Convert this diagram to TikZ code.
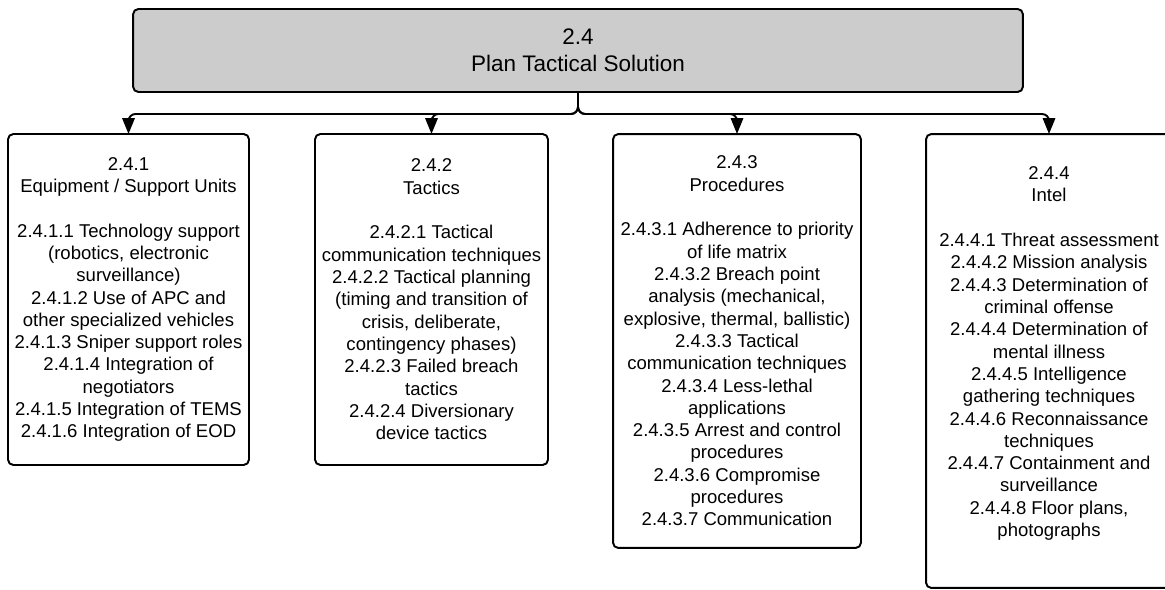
\documentclass[tikz,border=0pt]{standalone}
\usepackage{fontspec}
\setmainfont{Liberation Sans}
\usetikzlibrary{arrows.meta}

\begin{document}
\begin{tikzpicture}[x=0.02cm, y=-0.02cm,
  every node/.style={inner sep=0pt, outer sep=0pt},
  rootbox/.style={draw=black, line width=1.1pt, rounded corners=3pt,
    fill={rgb,255:red,204;green,204;blue,204},
    minimum width=17.8cm, minimum height=1.66cm, align=center,
    font=\fontsize{12.8}{15.4}\selectfont},
  childbox/.style={draw=black, line width=1.1pt, rounded corners=3pt,
    fill=white, align=center,
    font=\fontsize{10.55}{12.7}\selectfont},
  link/.style={draw=black, line width=1.1pt, rounded corners=4pt,
    -{Triangle[length=9pt, width=7pt]}}
]
\useasboundingbox (0,0) rectangle (1165,590);
\clip (0,0) rectangle (1165,590);

% root
\node[rootbox] (root) at (578,50.5) {2.4\\Plan Tactical Solution};

% children
\node[childbox, minimum width=4.82cm, minimum height=6.62cm] (b1) at (128.5,299.5)
  {2.4.1\\Equipment / Support Units\\[12.7pt]
   2.4.1.1 Technology support\\(robotics, electronic\\surveillance)\\
   2.4.1.2 Use of APC and\\other specialized vehicles\\
   2.4.1.3 Sniper support roles\\
   2.4.1.4 Integration of\\negotiators\\
   2.4.1.5 Integration of TEMS\\
   2.4.1.6 Integration of EOD};

\node[childbox, minimum width=4.66cm, minimum height=6.62cm] (b2) at (431.5,299.5)
  {2.4.2\\Tactics\\[12.7pt]
   2.4.2.1 Tactical\\communication techniques\\
   2.4.2.2 Tactical planning\\(timing and transition of\\crisis, deliberate,\\contingency phases)\\
   2.4.2.3 Failed breach\\tactics\\
   2.4.2.4 Diversionary\\device tactics};

\node[childbox, minimum width=4.96cm, minimum height=8.28cm] (b3) at (737,341)
  {2.4.3\\Procedures\\[12.7pt]
   2.4.3.1 Adherence to priority\\of life matrix\\
   2.4.3.2 Breach point\\analysis (mechanical,\\explosive, thermal, ballistic)\\
   2.4.3.3 Tactical\\communication techniques\\
   2.4.3.4 Less-lethal\\applications\\
   2.4.3.5 Arrest and control\\procedures\\
   2.4.3.6 Compromise\\procedures\\
   2.4.3.7 Communication};

% the trailing empty line lifts the text block a little inside this box
\node[childbox, minimum width=4.92cm, minimum height=9.08cm] (b4) at (1049,361)
  {2.4.4\\Intel\\[12.7pt]
   2.4.4.1 Threat assessment\\
   2.4.4.2 Mission analysis\\
   2.4.4.3 Determination of\\criminal offense\\
   2.4.4.4 Determination of\\mental illness\\
   2.4.4.5 Intelligence\\gathering techniques\\
   2.4.4.6 Reconnaissance\\techniques\\
   2.4.4.7 Containment and\\surveillance\\
   2.4.4.8 Floor plans,\\photographs\\[-2pt]\mbox{}};

% distribution bus below the root
\coordinate (bus) at (578,114);
\foreach \b in {b1,b2,b3,b4}
  \draw[link] (root.south) -- (root.south |- bus) -| (\b.north);
\end{tikzpicture}
\end{document}
